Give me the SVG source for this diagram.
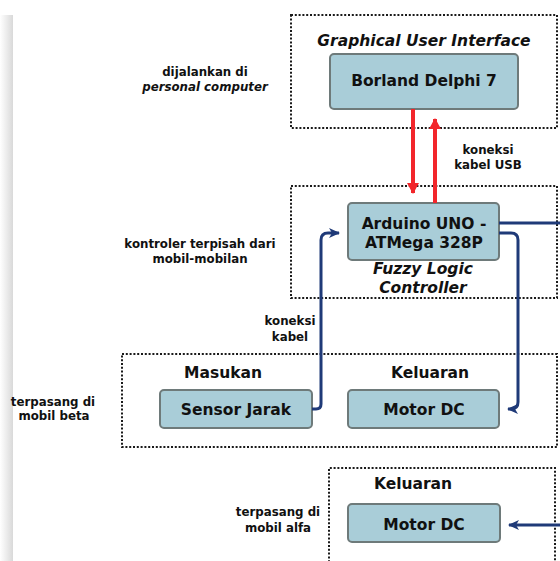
<svg xmlns="http://www.w3.org/2000/svg" width="560" height="561" viewBox="0 0 560 561">
<defs>
<linearGradient id="shadow" x1="0" y1="0" x2="1" y2="0">
<stop offset="0" stop-color="#ffffff"/>
<stop offset="1" stop-color="#d9d9d9"/>
</linearGradient>
<marker id="redArrow" markerWidth="12" markerHeight="12" refX="10" refY="6" orient="auto" markerUnits="userSpaceOnUse">
<path d="M0,0 L11,6 L0,12 z" fill="#f2262b"/>
</marker>
<marker id="blueArrow" markerWidth="12" markerHeight="10" refX="10" refY="5" orient="auto" markerUnits="userSpaceOnUse">
<path d="M0,0 L11,5 L0,10 L3,5 z" fill="#1f3a78"/>
</marker>
<style>
.grp{fill:none;stroke:#1a1a1a;stroke-width:2;stroke-dasharray:2,1.8}
.box{fill:#a9cdd8;stroke:#6e7a7a;stroke-width:2}
.bt{font-family:"DejaVu Sans",Verdana,sans-serif;font-weight:bold;font-size:15.5px;fill:#111;text-anchor:middle}
.it{font-style:italic}
.sm{font-family:"DejaVu Sans",Verdana,sans-serif;font-weight:bold;font-size:11.8px;fill:#111;text-anchor:middle}
.red{fill:none;stroke:#f2262b;stroke-width:4}
.blue{fill:none;stroke:#1f3a78;stroke-width:3;stroke-linejoin:round}
</style>
</defs>
<rect x="0" y="15" width="13" height="546" fill="url(#shadow)"/>

<g id="group-gui">
<rect class="grp" x="291" y="15" width="266" height="113"/>
<text class="bt it" x="424" y="46">Graphical User Interface</text>
</g>
<g id="node-borland">
<rect class="box" x="330" y="54" width="188" height="55" rx="4"/>
<text class="bt" x="424" y="86">Borland Delphi 7</text>
</g>

<g id="group-controller">
<rect class="grp" x="291" y="186" width="266" height="112"/>
<text class="bt it" x="423" y="274">Fuzzy Logic</text>
<text class="bt it" x="423" y="293">Controller</text>
</g>
<g id="node-arduino">
<rect class="box" x="348" y="203" width="151" height="57" rx="4"/>
<text class="bt" x="424" y="229">Arduino UNO -</text>
<text class="bt" x="424" y="248">ATMega 328P</text>
</g>

<g id="group-beta">
<rect class="grp" x="122" y="354" width="435" height="93"/>
<text class="bt" x="223" y="378">Masukan</text>
<text class="bt" x="430" y="378">Keluaran</text>
</g>
<g id="node-sensor">
<rect class="box" x="160" y="390" width="152" height="38" rx="4"/>
<text class="bt" x="236" y="415">Sensor Jarak</text>
</g>
<g id="node-motor-beta">
<rect class="box" x="348" y="390" width="151" height="38" rx="4"/>
<text class="bt" x="424" y="415">Motor DC</text>
</g>

<g id="group-alfa">
<path class="grp" d="M329,566 V468 H555 V566"/>
<text class="bt" x="413" y="489">Keluaran</text>
</g>
<g id="node-motor-alfa">
<rect class="box" x="348" y="504" width="152" height="38" rx="4"/>
<text class="bt" x="424" y="530">Motor DC</text>
</g>

<g id="labels">
<text class="sm" x="205" y="76">dijalankan di</text>
<text class="sm it" x="205" y="91">personal computer</text>
<text class="sm" x="200" y="248">kontroler terpisah dari</text>
<text class="sm" x="200" y="263">mobil-mobilan</text>
<text class="sm" x="53" y="406">terpasang di</text>
<text class="sm" x="54" y="420">mobil beta</text>
<text class="sm" x="278" y="516">terpasang di</text>
<text class="sm" x="278" y="532">mobil alfa</text>
<text class="sm" x="488" y="154">koneksi</text>
<text class="sm" x="488" y="169">kabel USB</text>
<text class="sm" x="290" y="325">koneksi</text>
<text class="sm" x="290" y="341">kabel</text>
</g>

<g id="connectors">
<path class="red" d="M413,109 V193" marker-end="url(#redArrow)"/>
<path class="red" d="M435,203 V119" marker-end="url(#redArrow)"/>
<path class="blue" d="M499,223 H562"/>
<path class="blue" d="M499,233 H511 Q518,233 518,240 V402 Q518,409 511,409 H508" marker-end="url(#blueArrow)"/>
<path class="blue" d="M312,409 H316 Q321,409 321,404 V240 Q321,233 328,233 H339" marker-end="url(#blueArrow)"/>
<path class="blue" d="M562,525 H509" marker-end="url(#blueArrow)"/>
</g>
</svg>
